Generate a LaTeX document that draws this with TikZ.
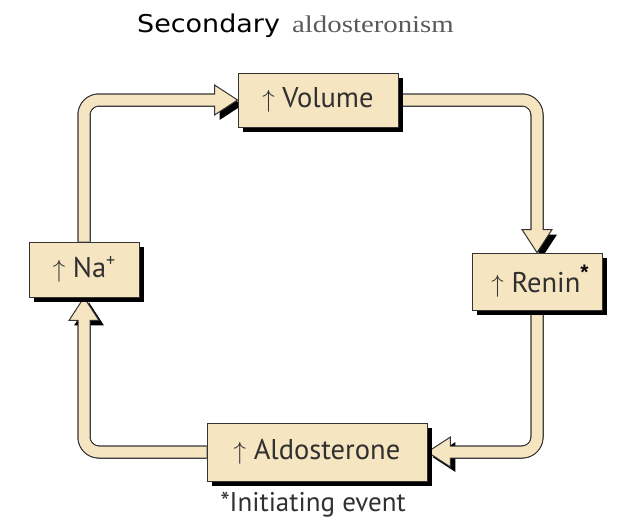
\documentclass[tikz,border=0pt]{standalone}
\usepackage{fontspec}
\setmainfont{PT Sans}
\newfontfamily\titlesans{DejaVu Sans}
\newfontfamily\titleserif{Liberation Serif}
\newfontfamily\starfont{Liberation Sans}
\usetikzlibrary{calc,shadows}
\definecolor{cream}{HTML}{F6E5C1}
\definecolor{edge}{HTML}{333333}
\definecolor{txt}{HTML}{303030}
\definecolor{titlegray}{HTML}{5A5A5A}
\pgfdeclarelayer{bg}
\pgfsetlayers{bg,main}
\newcommand\pipehead[3]{%
  \begin{scope}[shift={(#1)}, rotate=#2]
    \path[#3] (0,0) -- (-23,-15) -- (-23,15) -- cycle;
  \end{scope}}
\begin{document}
\begin{tikzpicture}[x=1pt,y=-1pt,
  box/.style={draw=edge, line width=0.9pt, fill=cream, inner sep=0pt,
    text=txt, font=\fontsize{28.5}{31}\selectfont,
    general shadow={fill=black, shadow xshift=5pt, shadow yshift=-5pt}},
  pipeshadow/.style={line width=13pt, draw=black, rounded corners=15pt},
  pipeedge/.style={line width=13pt, draw=edge, rounded corners=15pt},
  pipefill/.style={line width=11pt, draw=cream, rounded corners=15pt, shorten >=-3pt},
  headfill/.style={fill=cream, draw=edge, line width=1pt, line join=miter},
  headshadow/.style={fill=black}]
\useasboundingbox (0,0) rectangle (618,520);

% title
\node[anchor=base west, inner sep=0pt, font=\titlesans\fontsize{24.5}{28}\selectfont, text=black]
  (tsec) at (137,32) {\scalebox{1.1}[1]{Secondary}};
\node[anchor=base west, inner sep=0pt, font=\titleserif\fontsize{24}{28}\selectfont, text=titlegray]
  (tald) at (292,32) {\scalebox{1.2}[1]{aldosteronism}};

% boxes
\node[box, minimum width=160pt, minimum height=54pt] (vol) at (318,100) {$\uparrow$ Volume};
\node[box, minimum width=130pt, minimum height=57pt] (ren) at (537,281.5)
  {\hspace*{6pt}$\uparrow$ Renin\raisebox{0.45em}{\starfont\bfseries\fontsize{21}{21}\selectfont\color{black}*}};
\node[box, minimum width=110pt, minimum height=55pt] (na) at (84,269.5)
  {$\uparrow$ Na\raisebox{0.38em}{\fontsize{18}{18}\selectfont +}};
\node[box, minimum width=220pt, minimum height=58pt] (ald) at (317,452) {$\uparrow$ Aldosterone};

% footnote
\node[anchor=base, inner sep=0pt, text=txt, font=\fontsize{27}{30}\selectfont]
  (foot) at (313,511) {*Initiating event};

% head back points
\coordinate (b1) at ($(vol.west)+(-23,0)$);
\coordinate (b2) at ($(ren.north)+(0,-23)$);
\coordinate (b3) at ($(ald.east)+(23,0)$);
\coordinate (b4) at ($(na.south)+(0,23)$);

\begin{pgfonlayer}{bg}
  % shadows
  \begin{scope}[shift={(5,5)}]
    \draw[pipeshadow] (na.north) |- (b1);
    \draw[pipeshadow] (vol.east) -| (b2);
    \draw[pipeshadow] (ren.south) |- (b3);
    \draw[pipeshadow] (ald.west) -| (b4);
  \end{scope}
  \pipehead{$(vol.west)+(5,5)$}{0}{headshadow}
  \pipehead{$(ren.north)+(5,5)$}{-90}{headshadow}
  \pipehead{$(ald.east)+(5,5)$}{180}{headshadow}
  \pipehead{$(na.south)+(5,5)$}{90}{headshadow}
  % outlines
  \draw[pipeedge] (na.north) |- (b1);
  \draw[pipeedge] (vol.east) -| (b2);
  \draw[pipeedge] (ren.south) |- (b3);
  \draw[pipeedge] (ald.west) -| (b4);
  % heads
  \pipehead{vol.west}{0}{headfill}
  \pipehead{ren.north}{-90}{headfill}
  \pipehead{ald.east}{180}{headfill}
  \pipehead{na.south}{90}{headfill}
  % fills
  \draw[pipefill] (na.north) |- (b1);
  \draw[pipefill] (vol.east) -| (b2);
  \draw[pipefill] (ren.south) |- (b3);
  \draw[pipefill] (ald.west) -| (b4);
\end{pgfonlayer}
\end{tikzpicture}
\end{document}
